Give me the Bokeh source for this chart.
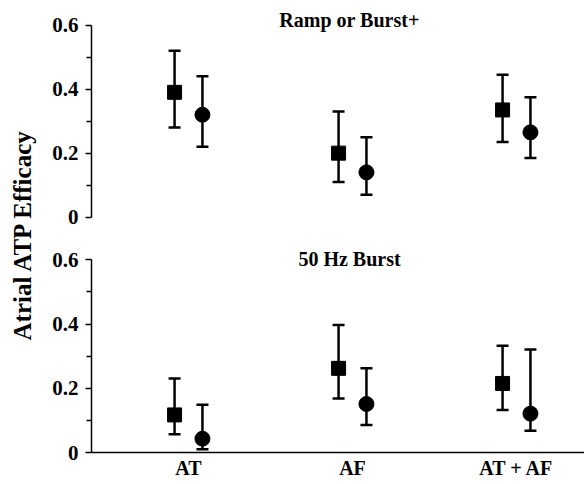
from bokeh.plotting import figure
from bokeh.models import (ColumnDataSource, Whisker, TeeHead, Range1d, FixedTicker,
                          NumeralTickFormatter, Label)
from bokeh.layouts import row, column
from bokeh.embed import file_html
from bokeh.resources import INLINE

# ---- data ----
categories = ["AT", "AF", "AT + AF"]

# Ramp or Burst+ (top panel)
ramp_sq_mean = [0.39, 0.20, 0.335]
ramp_sq_hi = [0.52, 0.33, 0.445]
ramp_sq_lo = [0.28, 0.11, 0.235]
ramp_ci_mean = [0.32, 0.14, 0.265]
ramp_ci_hi = [0.44, 0.25, 0.375]
ramp_ci_lo = [0.22, 0.07, 0.185]

# 50 Hz Burst (bottom panel)
burst_sq_mean = [0.117, 0.262, 0.215]
burst_sq_hi = [0.23, 0.397, 0.332]
burst_sq_lo = [0.057, 0.168, 0.132]
burst_ci_mean = [0.043, 0.151, 0.121]
burst_ci_hi = [0.149, 0.262, 0.321]
burst_ci_lo = [0.01, 0.086, 0.068]

y_ticks = [0, 0.2, 0.4, 0.6]
y_minor = [0.1, 0.3, 0.5]

FONT = "Liberation Serif"
OFF = 0.085
pos = [i + 1 for i in range(len(categories))]


def make_panel(title, sq_mean, sq_hi, sq_lo, ci_mean, ci_hi, ci_lo,
               height, y_range, bottom_axis, min_border_bottom, title_y):
    p = figure(width=544, height=height, output_backend="svg", toolbar_location=None,
               x_range=Range1d(0.4085, 3.4146), y_range=y_range,
               x_axis_location="below" if bottom_axis else None,
               min_border_left=51, min_border_right=0, min_border_top=0,
               min_border_bottom=min_border_bottom)
    p.outline_line_color = None
    p.grid.visible = False
    p.background_fill_color = "white"
    p.border_fill_color = "white"

    yax = p.yaxis[0]
    yax.ticker = FixedTicker(ticks=y_ticks, minor_ticks=y_minor)
    yax.formatter = NumeralTickFormatter(format="0.[0]")
    yax.bounds = (0, 0.6)
    yax.axis_line_width = 1.5
    yax.axis_line_color = "black"
    yax.major_tick_in = 0
    yax.major_tick_out = 6
    yax.minor_tick_in = 0
    yax.minor_tick_out = 5
    yax.major_tick_line_width = 1.5
    yax.minor_tick_line_width = 1.5
    yax.major_label_text_font = FONT
    yax.major_label_text_font_style = "bold"
    yax.major_label_text_font_size = "21px"
    yax.major_label_text_color = "black"
    yax.major_label_standoff = 7

    if bottom_axis:
        xax = p.xaxis[0]
        xax.ticker = FixedTicker(ticks=pos)
        xax.major_label_overrides = {pp: c for pp, c in zip(pos, categories)}
        xax.major_tick_line_color = None
        xax.minor_tick_line_color = None
        xax.axis_line_width = 1.5
        xax.axis_line_color = "black"
        xax.major_label_text_font = FONT
        xax.major_label_text_font_style = "bold"
        xax.major_label_text_font_size = "20px"
        xax.major_label_text_color = "black"
        xax.major_label_standoff = -2

    sq = ColumnDataSource(dict(x=[v - OFF for v in pos], y=sq_mean, hi=sq_hi, lo=sq_lo))
    ci = ColumnDataSource(dict(x=[v + OFF for v in pos], y=ci_mean, hi=ci_hi, lo=ci_lo))
    for src in (sq, ci):
        w = Whisker(base="x", upper="hi", lower="lo", source=src, dimension="height",
                    line_width=2.5, line_color="black",
                    upper_head=TeeHead(size=12, line_width=2.5, line_color="black"),
                    lower_head=TeeHead(size=12, line_width=2.5, line_color="black"))
        p.add_layout(w)
    p.scatter("x", "y", source=sq, marker="square", size=14, color="black")
    p.scatter("x", "y", source=ci, marker="circle", size=15, color="black")

    p.add_layout(Label(x=2, y=title_y, x_offset=-3, text=title, text_font=FONT,
                       text_font_style="bold", text_font_size="20px", text_color="black",
                       text_align="center", text_baseline="middle"))
    return p


top = make_panel("Ramp or Burst+", ramp_sq_mean, ramp_sq_hi, ramp_sq_lo,
                 ramp_ci_mean, ramp_ci_hi, ramp_ci_lo,
                 240, Range1d(-0.073, 0.677), False, 0, 0.615)
bot = make_panel("50 Hz Burst", burst_sq_mean, burst_sq_hi, burst_sq_lo,
                 burst_ci_mean, burst_ci_hi, burst_ci_lo,
                 244, Range1d(0, 0.66), True, 32, 0.603)

lab = figure(width=40, height=484, output_backend="svg", toolbar_location=None,
             x_range=Range1d(0, 1), y_range=Range1d(0, 1),
             x_axis_location=None, y_axis_location=None,
             min_border_left=0, min_border_right=0, min_border_top=0, min_border_bottom=0)
lab.outline_line_color = None
lab.grid.visible = False
lab.add_layout(Label(x=22 / 40, y=250 / 484, text="Atrial ATP Efficacy", angle=1.5707963,
                     text_font=FONT, text_font_style="bold", text_font_size="25px",
                     text_color="black", text_align="center", text_baseline="middle"))

layout = row(lab, column(top, bot))
open("out.html", "w").write(file_html(layout, INLINE))
